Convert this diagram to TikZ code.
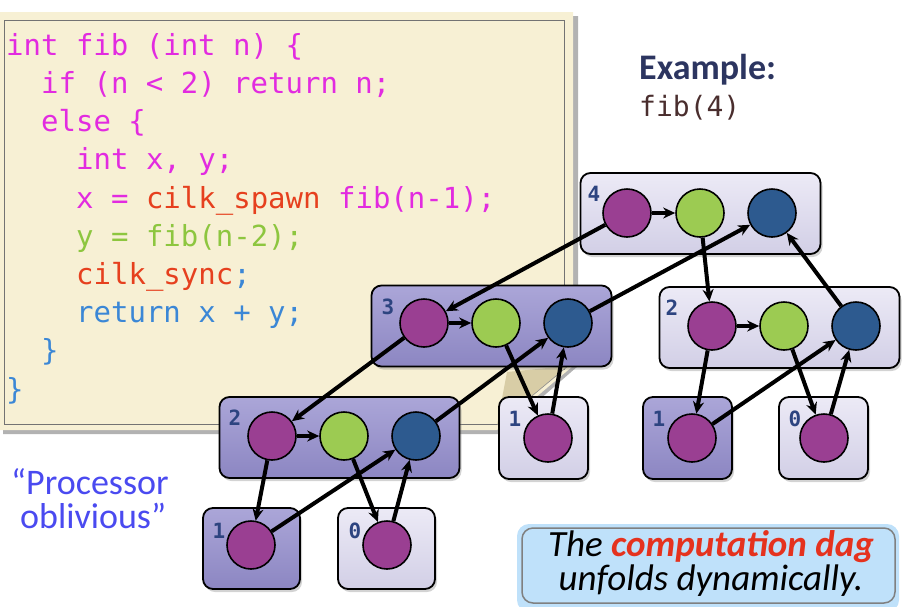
\documentclass[tikz,border=0pt]{standalone}
\usepackage{fontspec}
\usetikzlibrary{shadows,arrows.meta}
\setmainfont{Carlito}
\newfontfamily\codefont{DejaVu Sans Mono}
\newfontfamily\labfont{DejaVu Sans Mono}
\definecolor{cmag}{HTML}{E22BE0}
\definecolor{cred}{HTML}{E6401E}
\definecolor{cgreen}{HTML}{8DC63F}
\definecolor{cblue}{HTML}{3B87D6}
\definecolor{paper}{HTML}{F7F0D4}
\definecolor{fold}{HTML}{D8CDA6}
\definecolor{npurple}{HTML}{9A3F92}
\definecolor{ngreen}{HTML}{9CCB52}
\definecolor{nblue}{HTML}{2D5A8F}
\definecolor{darkA}{HTML}{ABA6D8}
\definecolor{darkB}{HTML}{8C86C2}
\definecolor{lightA}{HTML}{ECEAF6}
\definecolor{lightB}{HTML}{D2CFE6}
\definecolor{labcol}{HTML}{2D4480}
\definecolor{exblue}{HTML}{2C3560}
\definecolor{fibbrown}{HTML}{4A2E2E}
\definecolor{procblue}{HTML}{4A4AF0}
\definecolor{notefill}{HTML}{BFE1FA}
\definecolor{notered}{HTML}{E5321E}
\tikzset{
  codeline/.style={anchor=base west, inner sep=0pt, font=\codefont\fontsize{29}{34}\selectfont},
  boxbase/.style={draw=black, line width=1.8pt, rounded corners=10pt, inner sep=0pt,
     drop shadow={shadow xshift=2pt, shadow yshift=-3pt, opacity=0.35}},
  darkbox/.style={boxbase, top color=darkA, bottom color=darkB},
  lightbox/.style={boxbase, top color=lightA, bottom color=lightB},
  wide/.style={minimum width=240pt, minimum height=81pt},
  small/.style={minimum width=89pt, minimum height=82pt},
  smallb/.style={minimum width=97pt, minimum height=81pt},
  strand/.style={circle, draw=black, line width=1.6pt, minimum size=48pt, inner sep=0pt},
  pnode/.style={strand, fill=npurple},
  gnode/.style={strand, fill=ngreen},
  bnode/.style={strand, fill=nblue},
  lab/.style={inner sep=0pt, text=labcol, font=\labfont\bfseries\fontsize{21}{22}\selectfont},
  arr/.style={line width=4pt, -{Stealth[length=12pt,width=11pt]}},
  proc/.style={anchor=base west, inner sep=0pt, text=procblue, font=\fontsize{36}{36}\selectfont},
  noteline/.style={anchor=base, inner sep=0pt, font=\itshape\fontsize{37}{37}\selectfont}
}
\begin{document}
\begin{tikzpicture}[x=1pt,y=-1pt]
\useasboundingbox (0,0) rectangle (910,606);
% code paper
\fill[black!30] (3,16) -- (578,16) -- (578,366) -- (500,434) -- (3,434) -- cycle;
\fill[paper] (0,12) -- (573,12) -- (573,366) -- (497,430) -- (0,430) -- cycle;
\draw[black!55, line width=1pt] (4,20) -- (564,20) -- (564,370) (4,20) -- (4,424) -- (497,424);
\fill[fold] (497,425) -- (507,372) -- (568,366) -- cycle;
\draw[black!45, line width=0.6pt] (497,425) -- (568,366);
\node[codeline, text=cmag] (l1) at (6,55) {int fib (int n) \{};
\node[codeline, text=cmag] (l2) at (41,93) {if (n < 2) return n;};
\node[codeline, text=cmag] (l3) at (41,131) {else \{};
\node[codeline, text=cmag] (l4) at (76,169) {int x, y;};
\node[codeline] (l5) at (76,208) {\textcolor{cmag}{x =} \textcolor{cred}{cilk\_spawn} \textcolor{cmag}{fib(n-1);}};
\node[codeline, text=cgreen] (l6) at (76,246) {y = fib(n-2);};
\node[codeline] (l7) at (76,284) {\textcolor{cred}{cilk\_sync}\textcolor{cblue}{;}};
\node[codeline, text=cblue] (l8) at (76,322) {return x + y;};
\node[codeline, text=cblue] (l9) at (41,360) {\}};
\node[codeline, text=cblue] (l10) at (6,399) {\}};
% example
\node[anchor=west, inner sep=0pt, text=exblue, font=\bfseries\fontsize{36}{38}\selectfont] (ex) at (639,70) {Example:};
\node[anchor=west, inner sep=0pt, text=fibbrown, font=\codefont\fontsize{28}{32}\selectfont] (fib4) at (639,108) {fib(4)};
% processor oblivious
\node[proc] (proc1) at (11,494) {“Processor};
\node[proc] (proc2) at (20,528) {oblivious”};
% boxes
\node[lightbox, wide] (B4) at (700.5,213.5) {};
\node[darkbox, wide] (B3) at (491.5,326) {};
\node[lightbox, wide] (B2R) at (779.5,327.5) {};
\node[darkbox, wide] (B2L) at (339.5,437.5) {};
\node[lightbox, small] (B1M) at (543.5,438) {};
\node[darkbox, small] (B1R) at (687.5,438) {};
\node[lightbox, small] (B0R) at (823.5,438) {};
\node[darkbox, smallb] (B1L) at (251.5,548.5) {};
\node[lightbox, smallb] (B0B) at (386.5,548.5) {};
% labels
\node[lab] (t4) at (594,194) {4};
\node[lab] (t3) at (388,307) {3};
\node[lab] (t2R) at (672,308) {2};
\node[lab] (t2L) at (235,418) {2};
\node[lab] (t1M) at (515,419) {1};
\node[lab] (t1R) at (659,419) {1};
\node[lab] (t0R) at (795,419) {0};
\node[lab] (t1L) at (219,531) {1};
\node[lab] (t0B) at (355,531) {0};
% strands
\node[pnode] (p4) at (627,213) {};
\node[gnode] (g4) at (700,213) {};
\node[bnode] (b4) at (772,213) {};
\node[pnode] (p3) at (424,323) {};
\node[gnode] (g3) at (496,323) {};
\node[bnode] (b3) at (568,323) {};
\node[pnode] (p2R) at (712,326) {};
\node[gnode] (g2R) at (784,326) {};
\node[bnode] (b2R) at (856,326) {};
\node[pnode] (p2L) at (272,436) {};
\node[gnode] (g2L) at (344,436) {};
\node[bnode] (b2L) at (416,436) {};
\node[pnode] (p1M) at (548,438) {};
\node[pnode] (p1R) at (692,438) {};
\node[pnode] (p0R) at (824,438) {};
\node[pnode] (p1L) at (251,545) {};
\node[pnode] (p0B) at (387,545) {};
% edges
\draw[arr] (p4) -- (g4);
\draw[arr] (p4) -- (p3);
\draw[arr] (g4) -- (p2R);
\draw[arr] (b3) -- (b4);
\draw[arr] (b2R) -- (b4);
\draw[arr] (p3) -- (g3);
\draw[arr] (p3) -- (p2L);
\draw[arr] (g3) -- (p1M);
\draw[arr] (p1M) -- (b3);
\draw[arr] (b2L) -- (b3);
\draw[arr] (p2R) -- (g2R);
\draw[arr] (p2R) -- (p1R);
\draw[arr] (g2R) -- (p0R);
\draw[arr] (p1R) -- (b2R);
\draw[arr] (p0R) -- (b2R);
\draw[arr] (p2L) -- (g2L);
\draw[arr] (p2L) -- (p1L);
\draw[arr] (g2L) -- (p0B);
\draw[arr] (p1L) -- (b2L);
\draw[arr] (p0B) -- (b2L);
% note
\fill[notefill, rounded corners=12pt] (517,524) rectangle (899,612);
\draw[black!50, line width=1.5pt, rounded corners=11pt] (522,528) rectangle (895,603);
\node[noteline] (note1) at (711,556) {The \textcolor{notered}{\bfseries computation dag}};
\node[noteline] (note2) at (711,590) {unfolds dynamically.};
\end{tikzpicture}
\end{document}
